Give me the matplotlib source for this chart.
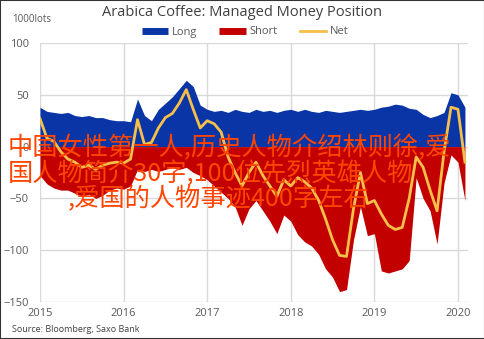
import numpy as np
import matplotlib
matplotlib.use("Agg")
import matplotlib.pyplot as plt
from matplotlib.lines import Line2D
from matplotlib.patches import Rectangle

# --- DATA (1000 lots, monthly, Jan 2015 .. Feb 2020) ---
start_year = 2015
long_pos = [38, 34, 33, 32, 33, 30, 29, 30, 28, 28, 26, 25,
            25, 24, 46, 30, 25, 36, 42, 48, 56, 64, 58, 40,
            36, 34, 35, 33, 36, 34, 33, 36, 34, 35, 33, 35,
            36, 34, 36, 34, 33, 35, 34, 33, 34, 35, 36, 35,
            36, 38, 39, 41, 40, 37, 36, 31, 28, 30, 33, 52,
            50, 38]
short_pos = [-28, -36, -40, -42, -42, -45, -48, -46, -50, -47, -42, -40,
             -41, -38, -22, -24, -22, -24, -22, -20, -22, -20, -25, -28,
             -32, -38, -44, -50, -58, -76, -60, -52, -62, -72, -84, -66,
             -72, -85, -92, -96, -104, -118, -126, -140, -138, -90, -58, -86,
             -84, -120, -122, -120, -118, -110, -30, -50, -62, -94, -35, -8,
             -15, -52]
net_pos = [27, 8, 5, -5, -12, -15, -20, -18, -22, -18, -16, -15,
           -16, -12, 26, 2, 4, 18, 28, 32, 42, 55, 36, 18,
           25, 22, 14, -10, -25, -38, -25, -15, -28, -38, -48, -32,
           -38, -30, -34, -40, -52, -70, -90, -105, -106, -60, -25, -55,
           -52, -65, -76, -80, -78, -50, -10, -20, -42, -62, -5, 38,
           36, -15]
year_ticks = [2015, 2016, 2017, 2018, 2019, 2020]
y_ticks = [100, 50, 0, -50, -100, -150]

overlay_lines = ["中国女性第一人,历史人物介绍林则徐,爱",
                 "国人物简介30字,100位先烈英雄人物",
                 ",爱国的人物事迹400字左右"]

# --- FIGURE ---
W, H = 485, 339
fig = plt.figure(figsize=(W / 100, H / 100), dpi=100)
ax = fig.add_axes([40 / W, 1 - 302 / H, 428 / W, 259 / H])

x = start_year + np.arange(len(long_pos)) / 12.0

blue = "#0a35a6"
red = "#c20000"
yellow = "#f5c04a"

ax.fill_between(x, 0, long_pos, color=blue, lw=0, zorder=2)
ax.fill_between(x, 0, short_pos, color=red, lw=0, zorder=2)
ax.plot(x, net_pos, color=yellow, lw=2, zorder=3)

ax.set_xlim(2015, 2020.12)
ax.set_ylim(-150, 100)
ax.set_xticks(year_ticks)
ax.set_yticks(y_ticks)
ax.grid(True, color="#d9d9d9", lw=1, zorder=0)
ax.set_axisbelow(True)
for s in ax.spines.values():
    s.set_visible(False)
ax.tick_params(length=0, labelsize=8, colors="#595959", pad=4)
ax.tick_params(axis="y", pad=8)
for lab in ax.get_xticklabels() + ax.get_yticklabels():
    lab.set_family("Open Sans")

fig.text(0.5, 1 - 12 / H, "Arabica Coffee: Managed Money Position", ha="center",
         va="center", fontsize=10.5, color="#404040", family="Open Sans")
fig.text(12 / W, 1 - 19 / H, "1000lots", ha="left", va="center", fontsize=7,
         color="#595959", family="Open Sans")
fig.text(12 / W, 1 - 329 / H, "Source: Bloomberg, Saxo Bank", ha="left", va="center",
         fontsize=6.5, color="#404040", family="Open Sans")

handles = [Line2D([], [], color=blue, lw=5, solid_capstyle="butt"),
           Line2D([], [], color=red, lw=5, solid_capstyle="butt"),
           Line2D([], [], color=yellow, lw=2)]
fig.legend(handles, ["Long", "Short", "Net"], loc="center", ncol=3,
           bbox_to_anchor=(0.505, 1 - 32 / H), frameon=False, handlelength=2.4,
           handletextpad=0.3, columnspacing=2.0,
           prop={"family": "Open Sans", "size": 8}, labelcolor="#595959")

# overlay watermark text (covers the "0" tick label, as in the reference)
cjk = ["Noto Sans CJK SC", "DejaVu Sans"]
tx = [8, 8, 68]
ty = [148, 174, 199]
for t, px, py in zip(overlay_lines, tx, ty):
    fig.text(px / W, 1 - py / H, t, ha="left", va="center", fontsize=18.2,
             color="#ff4500", family=cjk, zorder=10)

fig.patches.append(Rectangle((0, 0), 1, 1, transform=fig.transFigure, fill=False,
                             edgecolor="#333333", lw=1.5))

fig.savefig("out.png", dpi=100)
